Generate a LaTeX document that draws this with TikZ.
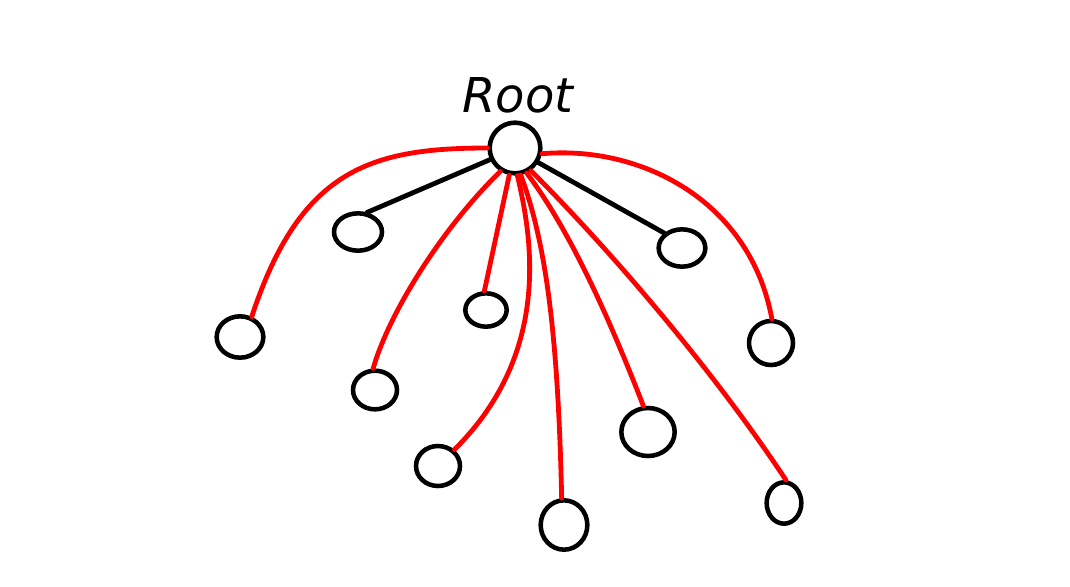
\documentclass[tikz,border=0pt]{standalone}
\usepackage{fontspec}
\setmainfont{DejaVu Sans}
\usetikzlibrary{shapes.geometric}
\begin{document}
\begin{tikzpicture}[x=0.75pt,y=-0.75pt,
  nd/.style={ellipse,draw=black,line width=3.4pt,inner sep=0pt},
  rootnd/.style={circle,draw=black,line width=3.4pt,inner sep=0pt,minimum size=38pt},
  redge/.style={draw=red,line width=3.6pt,line cap=round},
  bedge/.style={draw=black,line width=3.6pt,line cap=round}]
\useasboundingbox (0,0) rectangle (1070,586);
\node[rootnd] (root) at (515,148) {};
\node[font=\fontsize{36}{42}\selectfont\itshape] (lbl) at (518,95) {Root};
\node[nd,minimum width=36pt,minimum height=28pt] (a) at (358,232) {};
\node[nd,minimum width=35pt,minimum height=28pt] (b) at (682,248) {};
\node[nd,minimum width=35pt,minimum height=31pt] (c) at (240,337) {};
\node[nd,minimum width=33pt,minimum height=29pt] (d) at (375,390) {};
\node[nd,minimum width=31pt,minimum height=25pt] (e) at (486,310) {};
\node[nd,minimum width=33pt,minimum height=30pt] (f) at (438,466) {};
\node[nd,minimum width=35pt,minimum height=37pt] (g) at (564,525) {};
\node[nd,minimum width=40pt,minimum height=36pt] (h) at (648,432) {};
\node[nd,minimum width=33pt,minimum height=33pt] (i) at (771,343) {};
\node[nd,minimum width=26pt,minimum height=31pt] (j) at (784,503) {};
% black edges
\draw[bedge] (root.205) -- (a.65);
\draw[bedge] (root.328) -- (b.140);
% red edges
\draw[redge] (root.180) .. controls (370,148) and (300,170) .. (c.60);
\draw[redge] (root.238) .. controls (445,225) and (390,310) .. (d.95);
\draw[redge] (root.258) -- (e.95);
\draw[redge] (root.275) .. controls (530,230) and (555,350) .. (f.45);
\draw[redge] (root.282) .. controls (545,240) and (558,330) .. (g.95);
\draw[redge] (root.295) .. controls (570,230) and (610,320) .. (h.100);
\draw[redge] (root.305) .. controls (620,260) and (720,380) .. (j.85);
\draw[redge] (root.348) .. controls (640,145) and (750,200) .. (i.88);
\end{tikzpicture}
\end{document}
